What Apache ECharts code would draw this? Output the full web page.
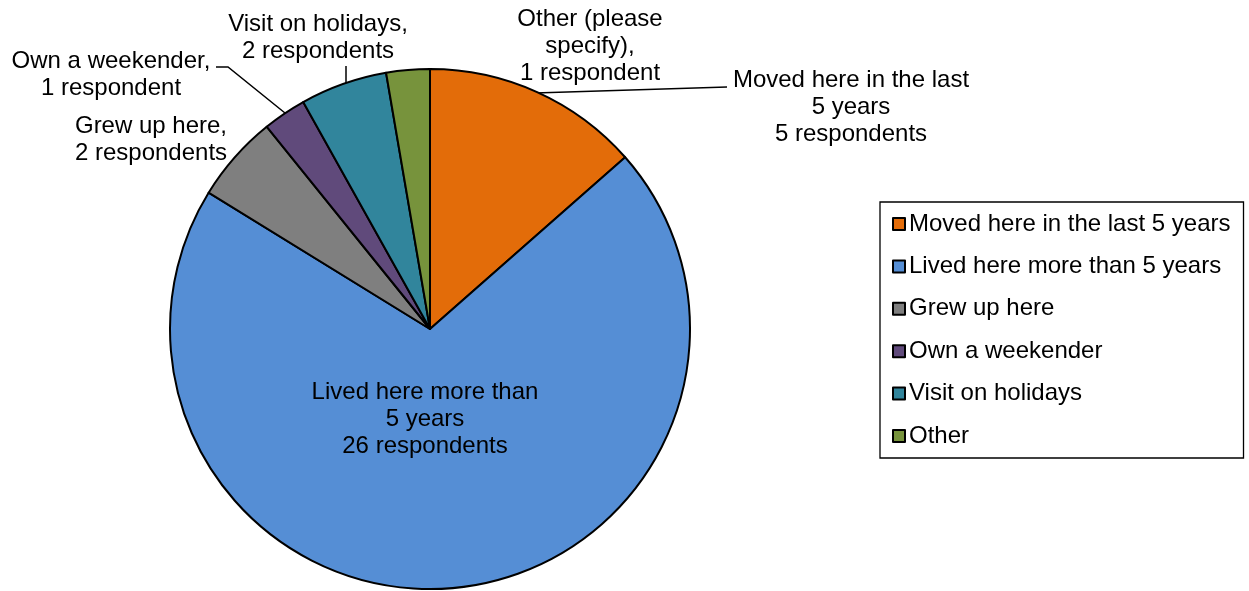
<!DOCTYPE html>
<html>
<head>
<meta charset="utf-8">
<script src="https://cdn.jsdelivr.net/npm/echarts@6/dist/echarts.min.js"></script>
<style>
html,body{margin:0;padding:0;background:#fff;}
#chart{width:1249px;height:591px;}
</style>
</head>
<body>
<div id="chart"></div>
<script>
const categories = ["Moved here in the last 5 years", "Lived here more than 5 years", "Grew up here", "Own a weekender", "Visit on holidays", "Other"];
const values = [5, 26, 2, 1, 2, 1];
const labelTexts = [
  "Moved here in the last\n5 years\n5 respondents",
  "Lived here more than\n5 years\n26 respondents",
  "Grew up here,\n2 respondents",
  "Own a weekender,\n1 respondent",
  "Visit on holidays,\n2 respondents",
  "Other (please\nspecify),\n1 respondent"
];
const colors = ["#E36C09", "#558ED5", "#7F7F7F", "#604A7B", "#31859C", "#77933C"];

// label placement (layout, not data)
const labelLayoutCfg = [
  { x: 851, y: 107, line: [[535, 93], [727, 87], [727, 87]] },
  { x: 425, y: 419, line: null },
  { x: 151, y: 140, line: null },
  { x: 111, y: 75, line: [[285, 113], [228, 67], [216, 67]] },
  { x: 318, y: 38, line: [[346, 83], [346, 66], [346, 66]] },
  { x: 590, y: 46, line: null }
];

const chart = echarts.init(document.getElementById('chart'));
const font = "'Liberation Sans', Arial, sans-serif";
chart.setOption({
  animation: false,
  backgroundColor: '#fff',
  color: colors,
  legend: {
    orient: 'vertical',
    left: 880,
    top: 202,
    padding: [10, 13, 10, 12],
    itemWidth: 12,
    itemHeight: 12,
    itemGap: 18.4,
    icon: 'rect',
    borderColor: '#000',
    borderWidth: 1.3,
    itemStyle: { borderColor: '#000', borderWidth: 2 },
    textStyle: { fontFamily: font, fontSize: 24, color: '#000', padding: [0, 0, 0, -1] },
    data: categories
  },
  series: [{
    type: 'pie',
    center: [430, 329],
    radius: 260,
    startAngle: 90,
    clockwise: true,
    avoidLabelOverlap: false,
    itemStyle: { borderColor: '#000', borderWidth: 2 },
    label: {
      show: true,
      position: 'outside',
      fontFamily: font,
      fontSize: 24,
      lineHeight: 27,
      color: '#000',
      align: 'center',
      formatter: p => labelTexts[p.dataIndex]
    },
    labelLine: { show: true, length: 10, length2: 10, lineStyle: { color: '#000', width: 1.5 } },
    labelLayout: function (params) {
      const c = labelLayoutCfg[params.dataIndex];
      const r = { x: c.x, y: c.y, align: 'center', verticalAlign: 'middle' };
      if (c.line) r.labelLinePoints = c.line;
      return r;
    },
    data: categories.map((n, i) => ({
      name: n,
      value: values[i],
      labelLine: { show: !!labelLayoutCfg[i].line }
    }))
  }]
});
</script>
</body>
</html>
